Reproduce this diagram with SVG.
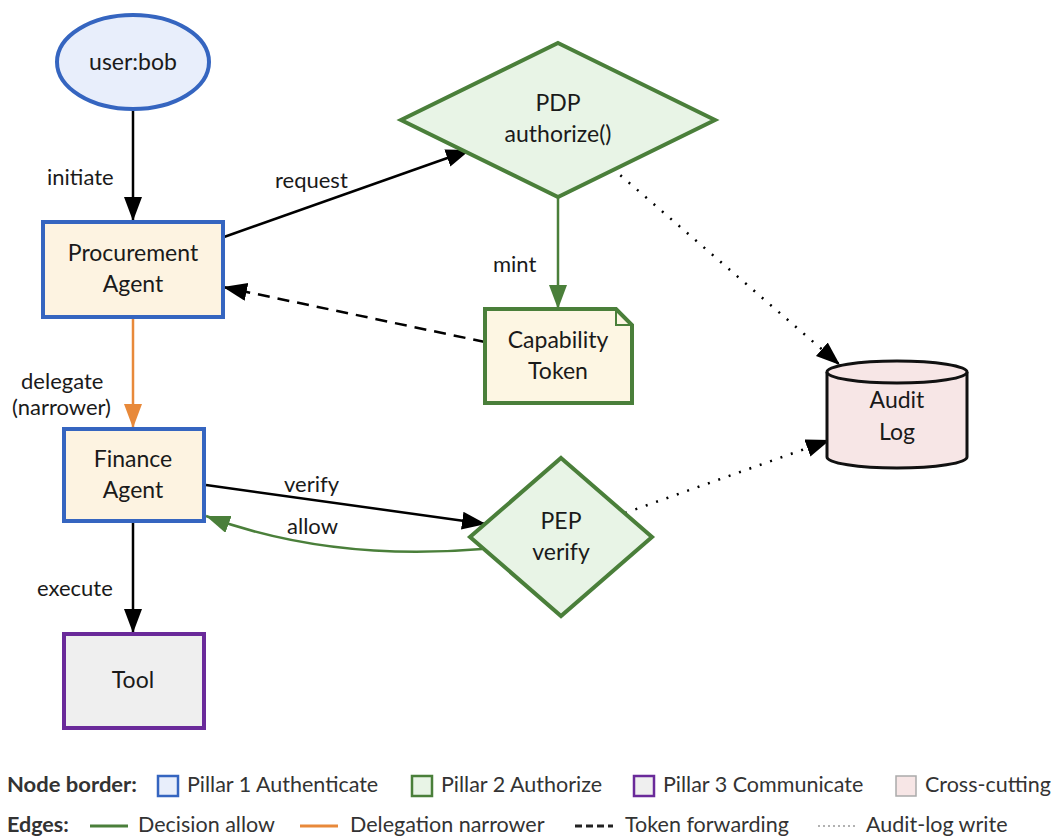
<svg xmlns="http://www.w3.org/2000/svg" width="1057" height="836" viewBox="0 0 1057 836">
<style>
text{font-family:Lato,"Open Sans","Liberation Sans",sans-serif;fill:#1a1a1a}
.n{font-size:23px;text-anchor:middle}
.l{font-size:22px}
.lg{font-size:21.5px;fill:#333}
.lb{font-size:21.5px;font-weight:bold;fill:#333}
.blue{stroke:#3565c0;stroke-width:4}
.green{stroke:#4a7f3a;stroke-width:4}
.e{fill:none;stroke-width:2.5}
</style>
<defs>
<marker id="ab" markerUnits="userSpaceOnUse" markerWidth="26" markerHeight="20" refX="24" refY="9" orient="auto"><path d="M0,0 L24,9 L0,18 Z" fill="#000"/></marker>
<marker id="ag" markerUnits="userSpaceOnUse" markerWidth="26" markerHeight="20" refX="24" refY="9" orient="auto"><path d="M0,0 L24,9 L0,18 Z" fill="#4a7f3a"/></marker>
<marker id="ao" markerUnits="userSpaceOnUse" markerWidth="26" markerHeight="20" refX="24" refY="9" orient="auto"><path d="M0,0 L24,9 L0,18 Z" fill="#e8893a"/></marker>
</defs>
<rect width="1057" height="836" fill="#fff"/>
<g id="edges">
<line class="e" x1="133" y1="110" x2="133" y2="221" stroke="#000" marker-end="url(#ab)"/>
<text class="l" x="47" y="185">initiate</text>
<line class="e" x1="224" y1="237" x2="470" y2="150" stroke="#000" marker-end="url(#ab)"/>
<text class="l" x="275" y="188">request</text>
<line class="e" x1="558" y1="197" x2="558" y2="309" stroke="#4a7f3a" marker-end="url(#ag)"/>
<text class="l" x="493" y="272">mint</text>
<line class="e" x1="485" y1="342" x2="223" y2="287" stroke="#000" stroke-dasharray="12,8" marker-end="url(#ab)"/>
<line class="e" x1="612" y1="168" x2="840" y2="365" stroke="#000" stroke-dasharray="2,9" marker-end="url(#ab)"/>
<line class="e" x1="625" y1="513" x2="830" y2="440" stroke="#000" stroke-dasharray="2,9" marker-end="url(#ab)"/>
<line class="e" x1="133" y1="318" x2="133" y2="428" stroke="#e8893a" marker-end="url(#ao)"/>
<text class="l" x="21" y="389" font-size="21">delegate</text>
<text class="l" x="12" y="415" font-size="21">(narrower)</text>
<line class="e" x1="206" y1="485" x2="486" y2="524" stroke="#000" marker-end="url(#ab)"/>
<text class="l" x="284" y="492">verify</text>
<path class="e" d="M482,549 Q330,562 206,516" stroke="#4a7f3a" marker-end="url(#ag)"/>
<text class="l" x="287" y="534">allow</text>
<line class="e" x1="133" y1="523" x2="133" y2="633" stroke="#000" marker-end="url(#ab)"/>
<text class="l" x="37" y="596">execute</text>
</g>
<g id="user">
<ellipse cx="133" cy="62" rx="76" ry="47" fill="#e8eefb" class="blue"/>
<text class="n" x="133" y="70">user:bob</text>
</g>
<g id="procurement">
<rect x="43" y="222" width="180" height="95" fill="#fdf3e1" class="blue"/>
<text class="n" x="133" y="261">Procurement</text>
<text class="n" x="133" y="292">Agent</text>
</g>
<g id="pdp">
<polygon points="558,43 715,120 558,197 401,120" fill="#e8f4e6" class="green"/>
<text class="n" x="558" y="111">PDP</text>
<text class="n" x="558" y="142">authorize()</text>
</g>
<g id="token">
<path d="M485,309 H616 L632,325 V403 H485 Z" fill="#fdf6e3" class="green"/>
<path d="M616,309 V325 H632" fill="none" stroke="#4a7f3a" stroke-width="2"/>
<text class="n" x="558" y="348">Capability</text>
<text class="n" x="558" y="379">Token</text>
</g>
<g id="audit">
<path d="M827,372 V457 A70,11 0 0 0 967,457 V372" fill="#f7e6e6" stroke="#111" stroke-width="3"/>
<ellipse cx="897" cy="372" rx="70" ry="11" fill="#f7e6e6" stroke="#111" stroke-width="3"/>
<text class="n" x="897" y="408">Audit</text>
<text class="n" x="897" y="440">Log</text>
</g>
<g id="finance">
<rect x="64" y="429" width="140" height="92" fill="#fdf3e1" class="blue"/>
<text class="n" x="133" y="467">Finance</text>
<text class="n" x="133" y="498">Agent</text>
</g>
<g id="pep">
<polygon points="561,458 652,537 561,616 470,537" fill="#e8f4e6" class="green"/>
<text class="n" x="561" y="529">PEP</text>
<text class="n" x="561" y="560">verify</text>
</g>
<g id="tool">
<rect x="64" y="634" width="140" height="94" fill="#efefef" stroke="#6a2a9a" stroke-width="4"/>
<text class="n" x="133" y="688">Tool</text>
</g>
<g id="legend">
<text class="lb" x="7" y="792" textLength="130" lengthAdjust="spacingAndGlyphs">Node border:</text>
<rect x="158" y="776" width="20" height="20" fill="#e8eefb" stroke="#3565c0" stroke-width="2.5"/>
<text class="lg" x="187" y="792">Pillar 1 Authenticate</text>
<rect x="412" y="776" width="20" height="20" fill="#e8f4e6" stroke="#4a7f3a" stroke-width="2.5"/>
<text class="lg" x="441" y="792">Pillar 2 Authorize</text>
<rect x="634" y="776" width="20" height="20" fill="#efefef" stroke="#6a2a9a" stroke-width="2.5"/>
<text class="lg" x="663" y="792">Pillar 3 Communicate</text>
<rect x="896" y="776" width="20" height="20" fill="#f7e6e6" stroke="#aaa" stroke-width="1.5"/>
<text class="lg" x="925" y="792">Cross-cutting</text>
<text class="lb" x="7" y="832">Edges:</text>
<line x1="90" y1="826" x2="128" y2="826" stroke="#4a7f3a" stroke-width="3"/>
<text class="lg" x="138" y="832">Decision allow</text>
<line x1="300" y1="826" x2="338" y2="826" stroke="#e8893a" stroke-width="3"/>
<text class="lg" x="350" y="832">Delegation narrower</text>
<line x1="575" y1="826" x2="613" y2="826" stroke="#222" stroke-width="3" stroke-dasharray="7,4"/>
<text class="lg" x="625" y="832">Token forwarding</text>
<line x1="818" y1="826" x2="856" y2="826" stroke="#999" stroke-width="1.5" stroke-dasharray="2,3"/>
<text class="lg" x="866" y="832">Audit-log write</text>
</g>
</svg>
